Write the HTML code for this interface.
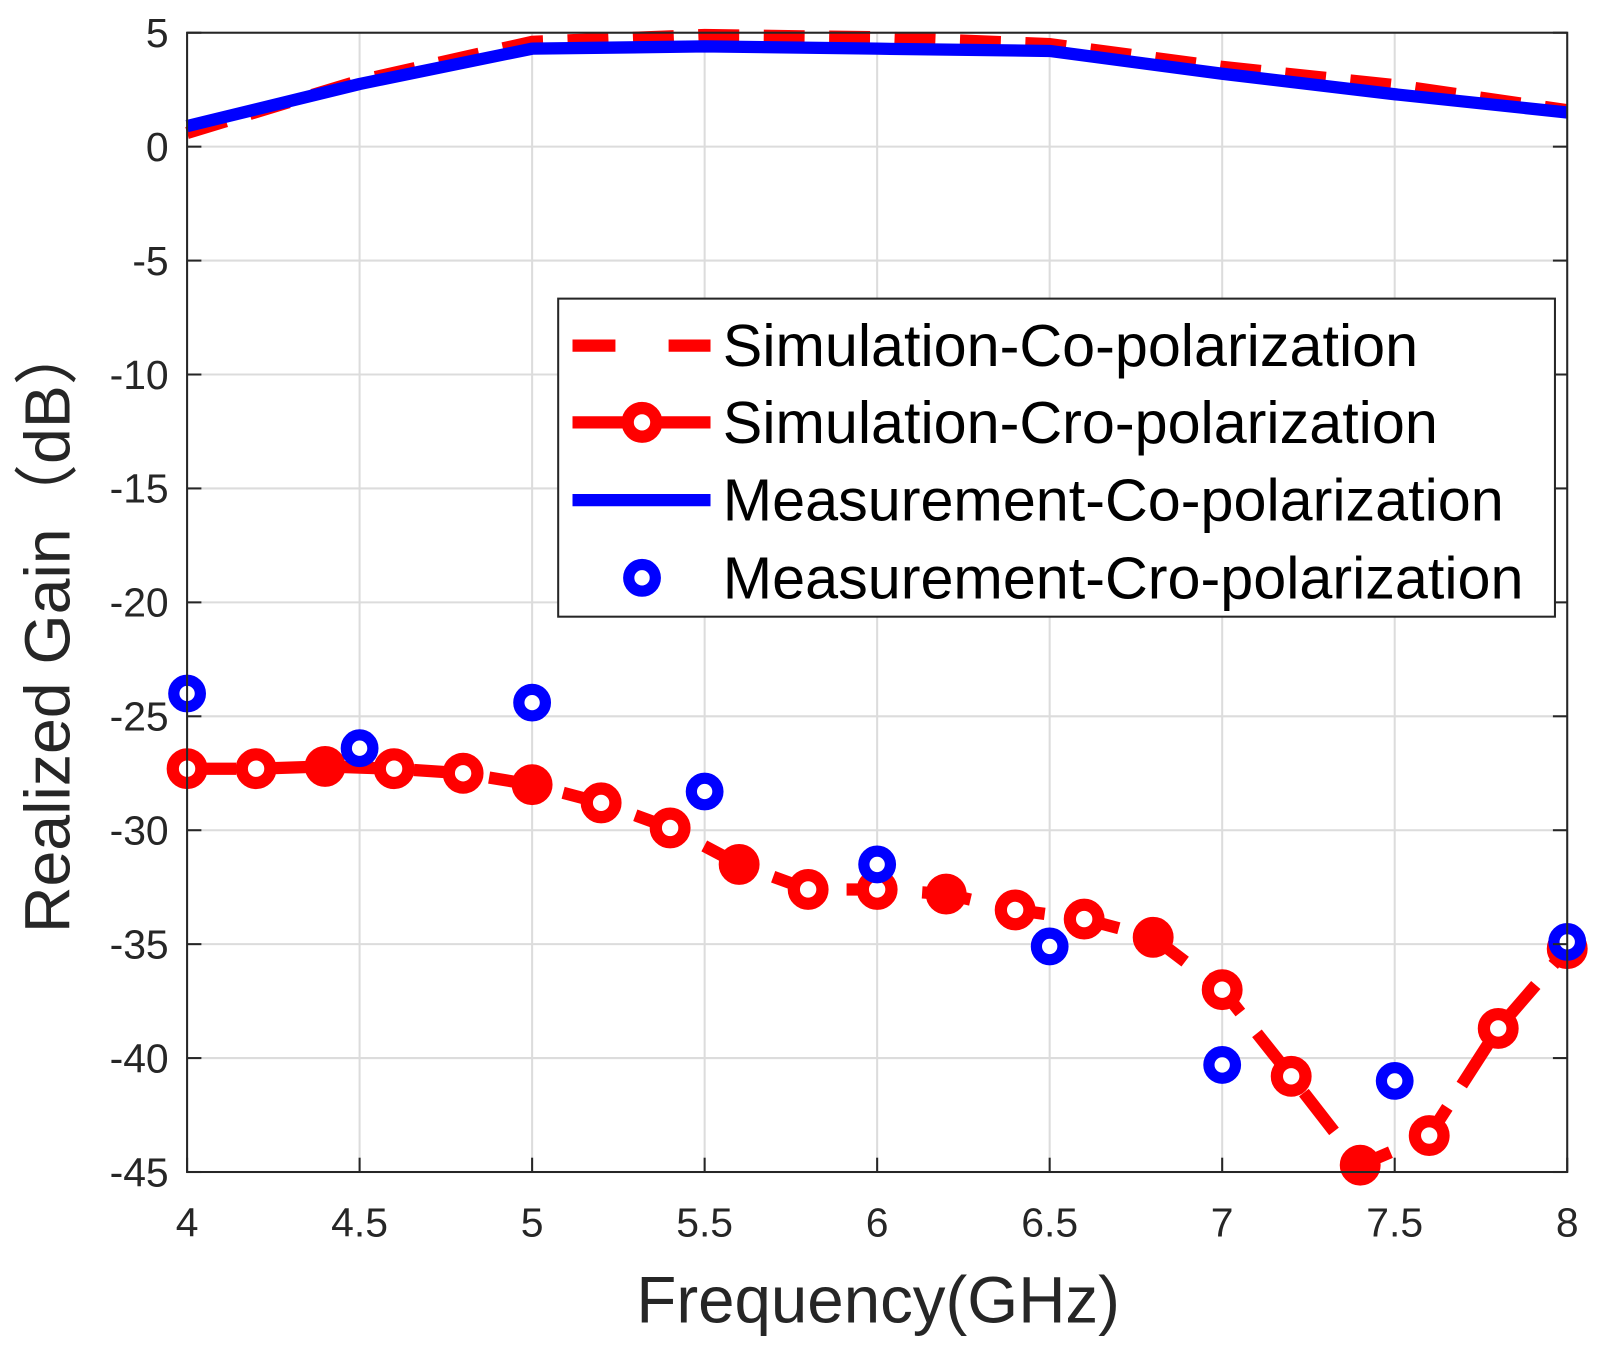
<!DOCTYPE html>
<html><head><meta charset="utf-8"><style>
html,body{margin:0;padding:0;background:#fff;}
svg text{font-family:"Liberation Sans",sans-serif;fill:#262626;}
</style></head><body>
<svg id="chart" width="1603" height="1352" viewBox="0 0 1568 1322" preserveAspectRatio="none" xmlns="http://www.w3.org/2000/svg">
<g id="grid"></g>
<g id="series"></g>
<rect x="183" y="32" width="1350" height="1114" fill="none" stroke="#262626" stroke-width="2"/>
<g id="ticks"></g>
<text x="859" y="1293" font-size="64" text-anchor="middle">Frequency(GHz)</text>
<text transform="translate(68,613) rotate(-90)" font-size="63" text-anchor="middle" style="font-family:'Liberation Sans','Noto Sans CJK SC',sans-serif">Realized Gain（dB）</text>
<g>
<rect x="546" y="292" width="975" height="311" fill="#fff" stroke="#262626" stroke-width="2"/>
<g>
<line x1="560" y1="338" x2="695" y2="338" stroke="#f00" stroke-width="12" stroke-dasharray="42 52"/>
<text x="707" y="358" font-size="58" style="fill:#000">Simulation-Co-polarization</text></g>
<g>
<line x1="560" y1="413" x2="695" y2="413" stroke="#f00" stroke-width="12" stroke-dasharray="60 22"/>
<circle cx="628" cy="413" r="14" fill="#fff" stroke="#f00" stroke-width="12"/>
<text x="707" y="433" font-size="58" style="fill:#000">Simulation-Cro-polarization</text></g>
<g>
<line x1="560" y1="489" x2="695" y2="489" stroke="#00f" stroke-width="12"/>
<text x="707" y="509" font-size="58" style="fill:#000">Measurement-Co-polarization</text></g>
<g>
<circle cx="628" cy="565" r="13" fill="#fff" stroke="#00f" stroke-width="11"/>
<text x="707" y="585" font-size="58" style="fill:#000">Measurement-Cro-polarization</text></g>
</g>
</svg>
<script>
const xTicks=[4,4.5,5,5.5,6,6.5,7,7.5,8];
const xTickLabels=["4","4.5","5","5.5","6","6.5","7","7.5","8"];
const yTicks=[5,0,-5,-10,-15,-20,-25,-30,-35,-40,-45];
const yTickLabels=["5","0","-5","-10","-15","-20","-25","-30","-35","-40","-45"];
const coFreq=[4,4.5,5,5.5,6,6.5,7,7.5,8];
const simCo=[0.6,2.9,4.6,4.9,4.8,4.5,3.5,2.7,1.6];
const measCo=[0.9,2.75,4.3,4.4,4.3,4.2,3.2,2.3,1.5];
const simCroFreq=[4,4.2,4.4,4.6,4.8,5,5.2,5.4,5.6,5.8,6,6.2,6.4,6.6,6.8,7,7.2,7.4,7.6,7.8,8];
const simCro=[-27.3,-27.3,-27.2,-27.3,-27.5,-28.0,-28.8,-29.9,-31.5,-32.6,-32.6,-32.8,-33.5,-33.9,-34.7,-37.0,-40.8,-44.7,-43.4,-38.7,-35.2];
const measCroFreq=[4,4.5,5,5.5,6,6.5,7,7.5,8];
const measCro=[-24.0,-26.4,-24.4,-28.3,-31.5,-35.1,-40.3,-41.0,-34.9];

const NS="http://www.w3.org/2000/svg";
const X=v=>183+(v-4)*(1350/4);
const Y=v=>32+(5-v)*(1114/50);
function mk(tag,attrs,parent){const e=document.createElementNS(NS,tag);for(const k in attrs)e.setAttribute(k,attrs[k]);parent.appendChild(e);return e;}
const grid=document.getElementById('grid'),ticks=document.getElementById('ticks'),ser=document.getElementById('series');
xTicks.forEach((t,i)=>{
  const g=mk('line',{x1:X(t),x2:X(t),y1:32,y2:1146,stroke:'#dcdcdc','stroke-width':2},grid);
  
  
  const tk=mk('line',{x1:X(t),x2:X(t),y1:1146,y2:1132,stroke:'#262626','stroke-width':2},ticks);
  
  
  const l=mk('text',{x:X(t),y:1209,'font-size':40,'text-anchor':'middle'},ticks);l.textContent=xTickLabels[i];
  
  
});
yTicks.forEach((t,i)=>{
  const g=mk('line',{x1:183,x2:1533,y1:Y(t),y2:Y(t),stroke:'#dcdcdc','stroke-width':2},grid);
  
  
  const tk=mk('line',{x1:183,x2:197,y1:Y(t),y2:Y(t),stroke:'#262626','stroke-width':2},ticks);
  
  
  const tk2=mk('line',{x1:1519,x2:1533,y1:Y(t),y2:Y(t),stroke:'#262626','stroke-width':2},ticks);
  
  
  const l=mk('text',{x:165,y:Y(t)+14,'font-size':40,'text-anchor':'end'},ticks);l.textContent=yTickLabels[i];
  
  
});
const pts=(fx,fy)=>fx.map((f,i)=>X(f)+','+Y(fy[i])).join(' ');
const sc=mk('polyline',{points:pts(coFreq,simCo),fill:'none',stroke:'#f00','stroke-width':12,'stroke-dasharray':'40 24'},ser);


const mc=mk('polyline',{points:pts(coFreq,measCo),fill:'none',stroke:'#00f','stroke-width':12,'stroke-linejoin':'round'},ser);


const sr=mk('polyline',{points:pts(simCroFreq,simCro),fill:'none',stroke:'#f00','stroke-width':12,'stroke-dasharray':'48 26'},ser);


simCroFreq.forEach((f,i)=>{
  const c=mk('circle',{cx:X(f),cy:Y(simCro[i]),r:14,fill:(i%3==2)?'#f00':'#fff',stroke:'#f00','stroke-width':12},ser);
  
  
});
measCroFreq.forEach((f,i)=>{
  const c=mk('circle',{cx:X(f),cy:Y(measCro[i]),r:13,fill:'#fff',stroke:'#00f','stroke-width':11},ser);
  
  
});
</script>
</body></html>
